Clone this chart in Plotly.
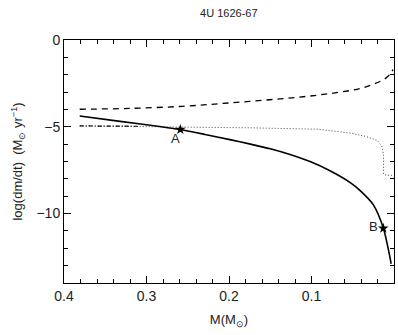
import plotly.graph_objects as go

# solid curve
m_solid = [0.381, 0.332, 0.284, 0.259, 0.229, 0.199, 0.174, 0.150, 0.126,
           0.101, 0.077, 0.053, 0.041, 0.025, 0.013, 0.008, 0.0042, 0.0036]
rate_solid = [-4.38, -4.69, -4.98, -5.16, -5.44, -5.74, -6.0, -6.27, -6.6,
              -7.02, -7.55, -8.22, -8.68, -9.5, -10.82, -11.8, -12.7, -12.9]

# dashed curve
m_dash = [0.381, 0.320, 0.256, 0.198, 0.138, 0.0965, 0.065, 0.0406,
          0.0225, 0.0103, 0.0042, 0.0012]
rate_dash = [-3.99, -3.94, -3.82, -3.62, -3.39, -3.2, -3.00, -2.79,
             -2.50, -2.21, -1.93, -1.70]

# dotted curve
m_dot = [0.381, 0.259, 0.174, 0.092, 0.053, 0.0346, 0.0204, 0.0143,
         0.0127, 0.0127, 0.0091, 0.0]
rate_dot = [-4.95, -5.0, -5.06, -5.14, -5.36, -5.55, -5.78, -6.16,
            -6.64, -7.73, -7.79, -7.79]

# dash-dot segment
m_dashdot = [0.381, 0.31]
rate_dashdot = [-4.95, -4.97]

# marked points
pt_labels = ['A', 'B']
pt_m = [0.259, 0.013]
pt_rate = [-5.16, -10.85]

font = 'Liberation Sans, Arial, sans-serif'

fig = go.Figure()
fig.add_scatter(x=m_dash, y=rate_dash, mode='lines', line_shape='spline',
                line=dict(color='black', width=1.3, dash='6px,5px'))
fig.add_scatter(x=m_dot, y=rate_dot, mode='lines',
                line=dict(color='#444', width=1, dash='1px,2px'))
fig.add_scatter(x=m_dashdot, y=rate_dashdot, mode='lines',
                line=dict(color='black', width=1.2, dash='4px,2px,1px,2px'))
fig.add_scatter(x=m_solid, y=rate_solid, mode='lines', line_shape='spline',
                line=dict(color='black', width=1.6, smoothing=0.8))
fig.add_scatter(x=pt_m, y=pt_rate, mode='markers',
                marker=dict(symbol='star', size=8, color='black'))

fig.add_annotation(x=pt_m[0], y=pt_rate[0], text=pt_labels[0], showarrow=False,
                   xshift=-5, yshift=-9, font=dict(size=13, color='#222', family=font))
fig.add_annotation(x=pt_m[1], y=pt_rate[1], text=pt_labels[1], showarrow=False,
                   xshift=-10, yshift=2, font=dict(size=13, color='#222', family=font))

axis_common = dict(showline=True, linecolor='black', linewidth=1, mirror='allticks',
                   ticks='inside', ticklen=7, tickcolor='black', showgrid=False,
                   zeroline=False, automargin=False,
                   tickfont=dict(size=14, color='#222', family=font))

fig.update_xaxes(range=[0.4, 0], tickvals=[0.4, 0.3, 0.2, 0.1, 0],
                 ticktext=['0.4', '0.3', '0.2', '0.1', '0'],
                 minor=dict(ticks='inside', ticklen=4, dtick=0.02, tickcolor='black'),
                 title=dict(text='M(M<sub>⊙</sub>)', font=dict(size=13, color='#222', family=font),
                            standoff=12),
                 **axis_common)
fig.update_yaxes(range=[-14, 0], tickvals=[0, -5, -10],
                 minor=dict(ticks='inside', ticklen=4, dtick=1, tickcolor='black'),
                 title=dict(text='log(dm/dt)  (M<sub>⊙</sub> yr<sup>−1</sup>)',
                            font=dict(size=13, color='#222', family=font), standoff=10),
                 **axis_common)

fig.update_layout(
    width=398, height=335,
    margin=dict(l=64, r=4, t=40, b=52, autoexpand=False),
    paper_bgcolor='white', plot_bgcolor='white',
    showlegend=False,
    title=dict(text='4U 1626-67', x=0.575, xanchor='center', y=0.96, yanchor='middle',
               font=dict(size=11, color='#222', family=font), automargin=False),
)

# drop the default page margin so the figure sits at the window's corner
fig.write_html('out.html', config={'displayModeBar': False},
               post_script="document.body.style.margin='0';document.body.style.overflow='hidden';")
